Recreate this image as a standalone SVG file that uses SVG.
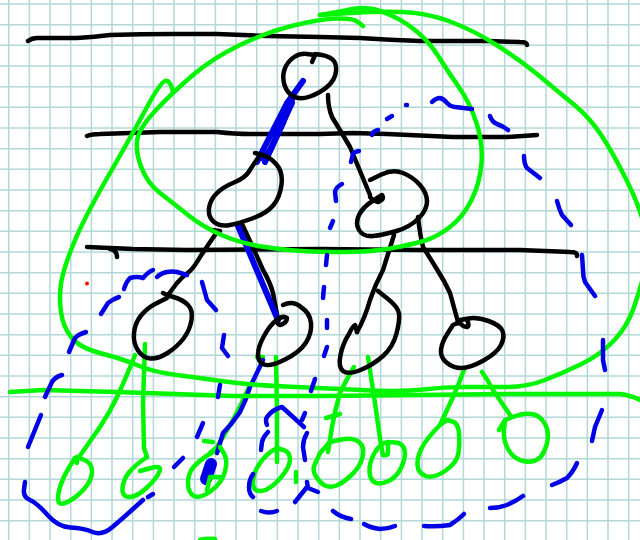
<svg xmlns="http://www.w3.org/2000/svg" width="640" height="540" viewBox="0 0 640 540">
<style>
path{fill:none;stroke-linecap:round;stroke-linejoin:round}
.grid{stroke:#b2d8d8;stroke-width:1.5;stroke-linecap:butt}
.k{stroke:#000;stroke-width:4.500}
.g{stroke:#00f500;stroke-width:4.500}
.b{stroke:#0000e6;stroke-width:4.500}
.bt{stroke:#0000e6;stroke-width:6}
</style>
<rect width="640" height="540" fill="#fff"/>
<path class="grid" d="M8.7 0V540M29.4 0V540M50 0V540M70.7 0V540M91.4 0V540M112 0V540M132.7 0V540M153.4 0V540M174 0V540M194.7 0V540M215.4 0V540M236 0V540M256.7 0V540M277.4 0V540M298 0V540M318.7 0V540M339.4 0V540M360 0V540M380.7 0V540M401.4 0V540M422 0V540M442.7 0V540M463.4 0V540M484 0V540M504.7 0V540M525.4 0V540M546 0V540M566.7 0V540M587.4 0V540M608 0V540M628.7 0V540M0 4H640M0 24.7H640M0 45.3H640M0 66H640M0 86.7H640M0 107.3H640M0 128H640M0 148.7H640M0 169.3H640M0 190H640M0 210.7H640M0 231.3H640M0 252H640M0 272.7H640M0 293.3H640M0 314H640M0 334.7H640M0 355.3H640M0 376H640M0 396.7H640M0 417.3H640M0 438H640M0 458.7H640M0 479.3H640M0 500H640M0 520.7H640"/>
<g id="levels">
<path class="k" d="M28 41 Q32 38 37 38 L77 38 Q95 37 110 35 Q140 34 173 34 L217 34 Q240 35 267 36 L320 37 L360 38 Q390 40 420 41 L487 41 L520 42 Q527 42 527 45"/>
<path class="k" d="M87 136 Q92 134 100 134 Q130 133 160 132 L217 132 Q235 134 250 134 L320 134 L353 133 L387 134 L453 137 L507 137 L537 135"/>
<path class="k" d="M87 247 L133 249 L187 250 L320 249 L420 250 L520 250 L570 252 Q578 252 577 256"/>
<path class="k" d="M110 249 Q117 250 117 257"/>
</g>
<g id="connectors">
<path class="k" d="M328 95 Q328 107 332 117 Q340 130 350 147 L370 195"/>
<path class="k" d="M212 230 L220 231 M217 232 Q208 245 200 257 Q195 266 190 271 Q182 277 177 283 L168 295"/>
<path class="k" d="M242 224 Q252 245 263 270 Q270 282 273 293 L278 320"/>
<path class="k" d="M394 235 L383 270 Q375 285 370 300 Q365 318 357 332"/>
<path class="k" d="M418 217 Q420 235 423 247 Q430 258 438 271 Q445 282 450 293 L458 322"/>
<path class="bt" d="M303 81 L287 103 L263 150 L257 162"/>
<path class="bt" d="M293 97 L283 123 L265 162"/>
<path class="bt" d="M292 103 L270 150 L262 158"/>
<path class="bt" d="M238 226 L278 320"/>
<path class="g" d="M135 355 Q126 378 117 397 Q110 412 100 427 L77 460 L77 463"/>
<path class="g" d="M145 344 L143 403 L144 448 L147 457"/>
<path class="g" d="M257 357 L263 357 M250 385 Q242 403 233 420 L217 447 L210 453 M204 441 L213 442"/>
<path class="g" d="M276 357 L277 410 L277 462"/>
<path class="g" d="M354 367 Q346 380 340 393 Q335 410 332 427 L328 452 M326 418 L340 414"/>
<path class="g" d="M368 357 L375 403 L381 445 L383 455"/>
<path class="g" d="M464 370 Q459 384 453 397 L440 425"/>
<path class="g" d="M482 372 Q488 380 493 390 L510 415"/>
<path class="b" d="M263 360 Q256 375 250 387 Q246 400 240 412 Q232 424 223 433 L217 453"/>
<path class="b" style="stroke-width:12" d="M211 464 L206 479"/>
</g>
<g id="node-root"><path class="k" d="M312 62 L315 55 L307 54 Q300 53 293.5 57.5 Q287 62 284.5 69.5 Q282 77 284.5 85 Q287 93 293.5 96.5 Q300 100 310 96.5 Q320 93 327.5 86.5 Q335 80 336 71.5 Q337 63 332 59 Q327 55 315 54"/></g>
<g id="node-left"><path class="k" d="M255 153 L262.5 155 Q270 157 276.5 164.5 Q283 172 281.5 184.5 Q280 197 273.5 205 Q267 213 253.5 218 Q240 223 230 225 Q220 227 214 222 Q208 217 209 208.5 Q210 200 216.5 193.5 Q223 187 234 182.5 Q245 178 249 171.5 Q253 165 258 158"/></g>
<g id="node-right"><path class="k" d="M370 180 L381.5 174.5 Q393 169 403 173 Q413 177 420 185 Q427 193 427 201.5 Q427 210 418.5 218.5 Q410 227 396.5 231 Q383 235 373 236 Q363 237 359 230 Q355 223 359 215 Q363 207 372.5 201 L382 195 Q385 200 378 202 Q373 201 370 197"/></g>
<g id="node-ll"><path class="k" d="M163 293 L167 295 L175 297.5 Q183 300 188 305 Q193 310 191.5 320 Q190 330 183.5 338.5 Q177 347 167.5 353 Q158 359 150.5 358.5 Q143 358 138 350.5 Q133 343 134 333 Q135 323 141 315.5 Q147 308 157 303 L167 298"/></g>
<g id="node-lr"><path class="k" d="M283 305 Q293 300 301.5 307.5 Q310 313 311 323 Q312 333 306 342.5 Q300 352 285 359.5 Q270 367 264 364.5 Q258 362 258 354.5 Q258 347 264 336 Q270 325 276.5 320 Q283 315 287 318 Q287 323 280 325 Q277 324 277 320"/></g>
<g id="node-rl"><path class="k" d="M378 291 L388 299 Q398 307 399 313.5 Q400 320 396.5 333.5 Q393 347 383 356 Q373 365 360.5 370 Q348 375 343 371 Q338 367 340.5 355 Q343 343 349 334 Q352 327 355 325 L357 332"/></g>
<g id="node-rr"><path class="k" d="M467 320 Q470 326 467 327 Q463 327 460 323 Q456 323 453 325 L447.5 333.5 Q442 342 441 349.5 Q440 357 446.5 362.5 Q453 368 461.5 368 Q470 368 483.5 360.5 Q497 353 501 345 Q505 337 502.5 331 Q500 325 488.5 321 Q477 317 468.5 318.5 L460 320"/></g>
<g id="hulls">
<path class="g" d="M363 26 L358 22 Q353 18 336.5 18.5 Q320 19 293.5 25.5 Q267 32 240 45 Q213 58 193 75 Q173 92 156.5 109.5 Q140 127 137.5 138.5 Q135 150 141 166.5 Q147 183 160 193 Q173 203 188 215 Q203 227 221.5 235 Q240 243 261.5 246.5 Q283 250 301.5 251 Q320 252 345 252 Q370 252 390 248.5 Q410 245 423.5 241 Q437 237 450 227 Q463 217 471.5 200 Q480 183 481.5 163 Q483 143 476.5 123 Q470 103 458.5 86.5 Q447 70 438.5 56.5 Q430 43 418.5 33 Q407 23 393.5 16.5 Q380 10 370 8.5 Q360 7 350 9.5 Q340 12 320 15"/>
<path class="g" d="M320 15 L350 13 Q380 11 403.5 12 Q427 13 450 21.5 Q473 30 496.5 45 Q520 60 540 76.5 Q560 93 575 105.5 Q590 118 601.5 135.5 Q613 153 626.5 180 Q640 207 645 228.5 Q650 250 645 270 Q640 290 633.5 308.5 Q627 327 613.5 341 Q600 355 581.5 364 Q563 373 545 380 Q527 387 507 387 Q487 387 465 387 Q443 387 423 389.5 Q403 392 361.5 390 Q320 388 285 386.5 Q250 385 225 381.5 Q200 378 176.5 375 Q153 372 138 365.5 Q123 359 101.5 353.5 Q80 348 71.5 337.5 Q63 327 61 312 Q59 297 61 283.5 Q63 270 73 245 Q83 220 108 176.5 Q133 133 146.5 108 Q160 83 165 81 Q170 79 173 92"/>
<path class="g" d="M10 392 L43 390 L117 392 L233 396 L320 396 L520 394 L620 394 Q630 395 640 400"/>
<path class="g" d="M200 540 Q207 538 215 539"/>
<path class="g" d="M296 472 L296 482"/>
</g>
<g id="leaf-1"><path class="g" d="M77 457 L84.5 460 Q92 463 92 471.5 Q92 480 84.5 488.5 Q77 497 68.5 501.5 Q60 506 58.5 501.5 Q57 497 60 487 Q63 477 69 467.5 L75 458"/></g>
<g id="leaf-2"><path class="g" d="M140 471 L151 468 Q162 465 159.5 471.5 Q157 478 147 487.5 Q137 497 129.500 497 Q122 497 122.5 488.5 Q123 480 129 472.5 Q135 465 147 457"/></g>
<g id="leaf-3"><path class="g" d="M220 447 L224 453.5 Q228 460 225 471.5 Q222 483 211 491 Q200 499 194 496 Q188 493 188 483 Q188 473 194 466.5 Q200 460 206.5 456 L213 452 M207 490 L210 477 L220 477"/></g>
<g id="leaf-4"><path class="g" d="M277 448 L283.5 450 Q290 452 290 459.5 Q290 467 280 478.5 Q270 490 261.5 491 Q253 492 253 482.5 Q253 473 260 463 Q267 453 277 448"/></g>
<g id="leaf-5"><path class="g" d="M320 453 L330 442 L341.5 439.5 Q353 437 359 442 Q365 447 362.5 457 Q360 467 351.5 475 Q343 483 336.5 485.5 Q330 488 325 485.5 Q320 483 316 476.5 Q312 470 314.5 465 L320 453"/></g>
<g id="leaf-6"><path class="g" d="M383 455 Q388 456 388 453 L388 442 L395.5 442.5 Q403 443 404.5 450 Q406 457 401.5 467 Q397 477 388.5 481 Q380 485 375 482.5 Q370 480 369.5 471.5 Q369 463 374.5 453 Q380 443 388 442"/></g>
<g id="leaf-7"><path class="g" d="M440 425 L447 420 L452.5 421.5 Q458 423 459 433 Q460 443 458.5 453 Q457 463 445 471 Q433 479 425.5 476 Q418 473 417.5 465 Q417 457 422 447.5 Q427 438 440 425"/></g>
<g id="leaf-8"><path class="g" d="M499 430 L505 420 L514 416.5 Q523 413 531.5 414 Q540 415 545 424 Q550 433 546.5 445 Q543 457 536.5 460 Q530 463 521.5 460.5 Q513 458 508 449 Q503 440 504 430 L505 420"/></g>
<g id="dashed-hull">
<path class="b" d="M432 102 Q436 98 440 98 Q444 99 447 103 Q451 107 455 107 L472 109"/>
<path class="b" d="M490 116 Q492 122 497 124 Q503 126 508 130"/>
<path class="b" d="M524 156 Q524 164 527 168 L540 178"/>
<path class="b" d="M557 201 Q559 209 562 215 L571 225"/>
<path class="b" d="M582 255 L583 270 Q583 277 585 282 L595 296"/>
<path class="b" d="M603 340 L603 360 L605 370"/>
<path class="b" d="M602 410 L595 427 L592 441"/>
<path class="b" d="M577 463 Q573 472 567 478 Q560 482 552 485"/>
<path class="b" d="M523 496 Q516 501 507 505 Q499 508 490 508"/>
<path class="b" d="M464 514 Q458 520 450 525 Q437 527 424 526"/>
<path class="b" d="M395 526 Q388 529 380 529 Q371 528 364 524"/>
<path class="b" d="M351 519 Q340 517 333 511"/>
<path class="b" d="M277 511 Q269 514 261 511"/>
<path class="b" d="M295 502 L307 487 M307 482 L308 488 L318 492"/>
<path class="b" d="M253 474 Q249 480 249 487 Q249 494 253 497"/>
<path class="b" d="M268 432 Q263 437 262 442 L261 450"/>
<path class="b" d="M267 425 Q265 420 267 417 Q273 409 282 407 L304 427"/>
<path class="b" d="M305 413 L302 420"/>
<path class="b" d="M307 433 Q303 440 303 447 L305 460"/>
<path class="b" d="M315 379 L311 391"/>
<path class="b" d="M324 287 L323 298"/>
<path class="b" d="M327 320 L327 328"/>
<path class="b" d="M327 347 L324 356"/>
<path class="b" d="M327 255 L326 265"/>
<path class="b" d="M333 221 L330 228"/>
<path class="b" d="M342 184 Q336 187 335 192 L336 201"/>
<path class="b" d="M359 151 Q354 152 353 154 L351 162"/>
<path class="b" d="M378 130 Q373 131 372 135"/>
<path class="b" d="M392 116 L387 119"/>
<path class="b" d="M406 105 L407 105"/>
<path class="b" d="M203 423 L197 437"/>
<path class="b" d="M220 385 L218 397"/>
<path class="b" d="M62 375 Q55 377 52 382 L45 397"/>
<path class="b" d="M41 415 L28 447"/>
<path class="b" d="M86 332 Q79 334 75 338 L69 352"/>
<path class="b" d="M119 297 Q113 299 108 303 L101 314"/>
<path class="b" d="M124 289 Q126 282 130 278 Q137 276 143 278 Q148 272 153 270 M157 277 Q161 273 167 272 Q172 271 177 272 L187 275"/>
<path class="b" d="M202 282 L207 300 L216 310"/>
<path class="b" d="M224 335 L222 348 L228 356"/>
<path class="b" d="M25 482 L24 489.5 Q23 497 30 500 Q37 503 47.5 515 Q58 527 70.5 527.5 Q83 528 92.5 532 Q102 536 112.5 527 Q123 518 133 509 L143 500"/>
<path class="b" d="M153 494 L148 497"/>
<path class="b" d="M183 458 L174 467"/>
</g>
<circle cx="87" cy="283.500" r="2" fill="#f00"/>
</svg>
